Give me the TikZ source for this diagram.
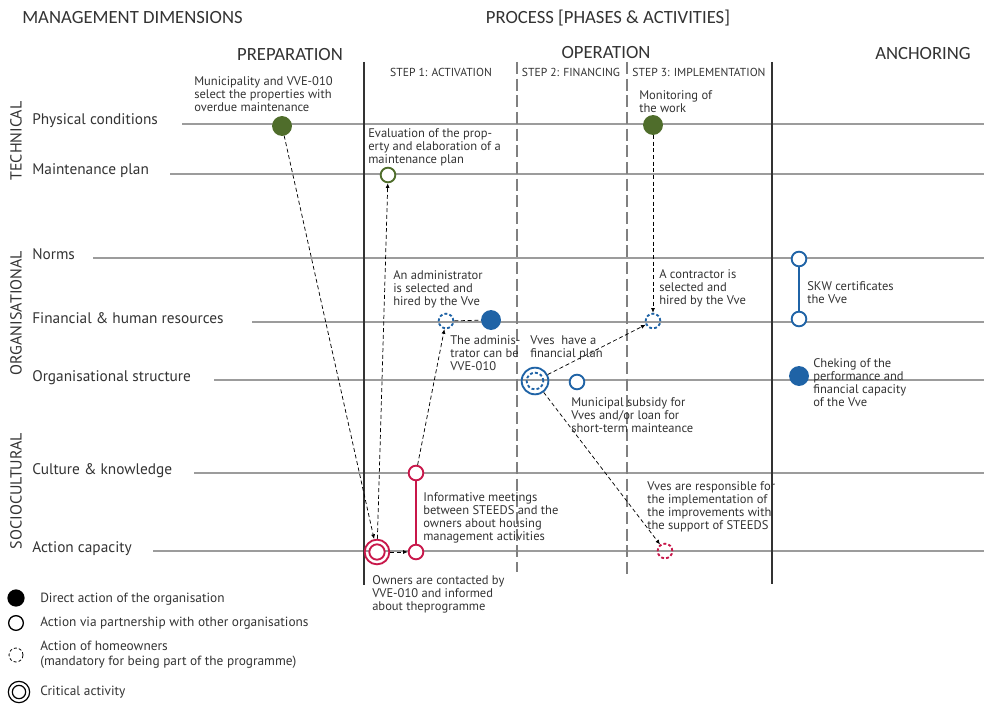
\documentclass[tikz,border=0pt]{standalone}
\usepackage{fontspec}
\setmainfont{PT Sans}
\newfontfamily\hdfont{Carlito}
\usetikzlibrary{arrows.meta,positioning}
\definecolor{tgreen}{HTML}{4F6D2B}
\definecolor{oblue}{HTML}{1F63A6}
\definecolor{sred}{HTML}{C8174A}
\definecolor{gridgray}{HTML}{9C9C9C}
\definecolor{ink}{HTML}{333333}
\tikzset{%
  act/.style={circle, inner sep=0pt, minimum size=11pt, line width=1.4pt},
  direct/.style={act, minimum size=13.5pt, draw=#1, fill=#1},
  partner/.style={act, draw=#1, fill=white},
  owner/.style={act, draw=#1, dash pattern=on 2.2pt off 1.6pt},
  critical/.style={act, minimum size=19pt, draw=#1},
  flow/.style={line width=0.55pt, dash pattern=on 3pt off 2pt, -{Latex[length=3.5pt,width=3pt]}},
  grid/.style={gridgray, line width=0.8pt},
  note/.style={font=\fontsize{9.4}{9.9}\selectfont, align=left, anchor=north west, inner sep=0pt, text=ink},
  rowlab/.style={font=\fontsize{11.5}{13}\selectfont, anchor=base west, inner sep=0pt, text=ink},
  dimlab/.style={font=\fontsize{12}{13}\selectfont, rotate=90, inner sep=0pt, text=ink},
  phase/.style={font=\hdfont\fontsize{14}{16}\selectfont, inner sep=0pt, text=ink},
  steplab/.style={font=\fontsize{8.7}{10}\selectfont, inner sep=0pt, text=ink},
  legtext/.style={font=\fontsize{10}{11}\selectfont, align=left, anchor=west, inner sep=0pt, text=ink},
}

\begin{document}
\begin{tikzpicture}[x=0.75pt, y=-0.75pt]
    \useasboundingbox (0,0) rectangle (984,706);

    %titles
    \node[phase, anchor=west] (mdim) at (22,18) {MANAGEMENT DIMENSIONS};
    \node[phase] (proc) at (608,18) {PROCESS [PHASES \& ACTIVITIES]};
    \node[phase] (prep) at (290,55) {PREPARATION};
    \node[phase] (oper) at (606,53) {OPERATION};
    \node[phase] (anch) at (923,54) {ANCHORING};
    \node[steplab] (s1) at (441,72) {STEP 1: ACTIVATION};
    \node[steplab] (s2) at (571,72) {STEP 2: FINANCING};
    \node[steplab] (s3) at (699,72) {STEP 3: IMPLEMENTATION};

    %dimension labels
    \node[dimlab] (tech) at (16,141) {TECHNICAL};
    \node[dimlab] (orga) at (16,313) {ORGANISATIONAL};
    \node[dimlab] (soci) at (16,491) {SOCIOCULTURAL};

    %rows
    \foreach \y/\lab/\xs in {124/Physical conditions/182, 174/Maintenance plan/170,
        258/Norms/93, 322/Financial \& human resources/252, 380/Organisational structure/214,
        473/Culture \& knowledge/194, 551/Action capacity/153}{
      \node[rowlab] at (32,\y+1) {\lab};
      \draw[grid] (\xs,\y) -- (984,\y);
    }

    %phase borders
    \draw[ink, line width=0.9pt] (364,62) -- (364,585);
    \draw[gray, line width=1.2pt, dash pattern=on 9pt off 3.5pt] (517,62) -- (517,572);
    \draw[gray, line width=1.2pt, dash pattern=on 9pt off 3.5pt] (627,62) -- (627,576);
    \draw[ink, line width=0.9pt] (772,62) -- (772,584);

    %activities
    \node[direct=tgreen] (pc1) at (282,126) {};
    \node[partner=tgreen] (mp1) at (388,175) {};
    \node[direct=tgreen] (pc2) at (653,125) {};
    \node[owner=oblue] (fh1) at (446,321) {};
    \node[direct=oblue] (fh2) at (491,320) {};
    \node[critical=oblue, minimum size=20pt] (os1) at (535,381) {};
    \node[owner=oblue, minimum size=12.5pt] (os1in) at (535,381) {};
    \node[partner=oblue] (os2) at (577,382) {};
    \node[owner=oblue] (fh3) at (653,321) {};
    \node[partner=oblue] (nm1) at (799,259) {};
    \node[partner=oblue] (fh4) at (799,319) {};
    \node[direct=oblue] (os3) at (799,376) {};
    \node[partner=sred] (ck1) at (416,473) {};
    \node[partner=sred] (ac1) at (416,552) {};
    \node[critical=sred, minimum size=18.5pt] (ac0) at (377,552) {};
    \node[partner=sred, minimum size=11.5pt] (ac0in) at (377,552) {};
    \node[owner=sred] (ac2) at (665,551) {};

    %links
    \draw[sred, line width=1.4pt] (ck1) -- (ac1);
    \draw[oblue, line width=0.8pt] (nm1) -- (fh4);
    \draw[flow] (pc1) -- (ac0);
    \draw[flow] (ac0) -- (mp1);
    \draw[flow] (ac0) -- (ac1);
    \draw[flow] (ck1) -- (fh1);
    \draw[flow, -] (fh1) -- (fh2);
    \draw[flow] (os1) -- (fh3);
    \draw[flow] (pc2) -- (fh3);
    \draw[flow] (os1) -- (ac2);

    %descriptions
    \node[note] (t1) at (194,76) {Municipality and VVE-010\\select the properties with\\overdue maintenance};
    \node[note] (t2) at (368,128) {Evaluation of the prop-\\erty and elaboration of a\\maintenance plan};
    \node[note] (t3) at (639,90) {Monitoring of\\the work};
    \node[note] (t4) at (393,270) {An administrator\\is selected and\\hired by the Vve};
    \node[note] (t5) at (659,269) {A contractor is\\selected and\\hired by the Vve};
    \node[note] (t6) at (450,335) {The adminis-\\trator can be\\VVE-010};
    \node[note] (t7) at (530,335) {Vves~ have a\\financial plan};
    \node[note] (t8) at (571,397) {Municipal subsidy for\\Vves and/or loan for\\short-term mainteance};
    \node[note] (t9) at (807,281) {SKW certificates\\the Vve};
    \node[note] (t10) at (813,358) {Cheking of the\\performance and\\financial capacity\\of the Vve};
    \node[note] (t11) at (423,492) {Informative meetings\\between STEEDS and the\\owners about housing\\management activities};
    \node[note] (t12) at (647,481) {Vves are responsible for\\the implementation of\\the improvements with\\the support of STEEDS};
    \node[note] (t13) at (372,575) {Owners are contacted by\\VVE-010 and informed\\about theprogramme};

    %legend
    \node[direct=black, minimum size=11.5pt] (l1) at (16,598) {};
    \node[partner=black, line width=1pt, minimum size=11pt] (l2) at (16,623) {};
    \node[owner=black, line width=0.6pt, minimum size=10.5pt] (l3) at (16,655) {};
    \node[critical=black, line width=0.9pt, minimum size=16pt] (l4) at (19,692) {};
    \node[partner=black, line width=0.9pt, minimum size=10pt] (l4in) at (19,692) {};
    \node[legtext] at (40,599) {Direct action of the organisation};
    \node[legtext] at (40,623) {Action via partnership with other organisations};
    \node[legtext] at (40,655) {Action of homeowners\\(mandatory for being part of the programme)};
    \node[legtext] at (40,692) {Critical activity};
\end{tikzpicture}
\end{document}
